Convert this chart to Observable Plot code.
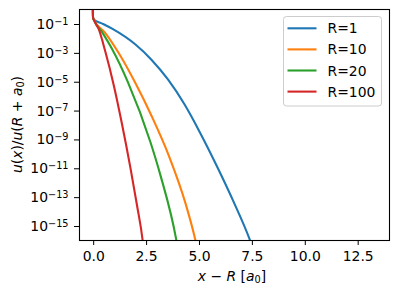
<!DOCTYPE html>
<html>
<head>
<meta charset="utf-8">
<script src="https://cdn.jsdelivr.net/npm/d3@7"></script>
<script src="https://cdn.jsdelivr.net/npm/@observablehq/plot@0.6"></script>
<style>
  html, body { margin: 0; padding: 0; background: #fff; }
  #chart svg { font-family: "DejaVu Sans", sans-serif; }
</style>
</head>
<body>
<div id="chart"></div>
<script>
// Series labels and colours (matplotlib tab10)
const seriesNames = ["R=1", "R=10", "R=20", "R=100"];
const seriesColors = ["#1f77b4", "#ff7f0e", "#2ca02c", "#d62728"];

// x − R in units of a0, and u(x)/u(R + a0) for each R
const xR1   = [-0.05, -0.03, 0, 0.41, 0.87, 1.976, 2.73, 3.51, 4.29, 5.04, 5.83, 6.62, 7.38, 7.45];
const yR1   = [30, 0.3, 0.224, 0.115, 0.0513, 4.07e-3, 3.63e-4, 1.55e-5, 2.95e-7, 2.95e-9, 1.45e-11, 4.9e-14, 1.2e-16, 6.3e-17];

const xR10  = [-0.05, -0.03, 0, 0.553, 1.182, 1.971, 2.76, 3.55, 4.34, 4.81, 4.86];
const yR10  = [30, 0.3, 0.224, 0.0257, 1.07e-3, 8.9e-6, 3.9e-8, 8.3e-11, 4.0e-14, 1.07e-16, 5e-17];

const xR20  = [-0.05, -0.03, 0, 0.397, 0.87, 1.617, 2.68, 3.15, 3.91, 3.95];
const yR20  = [30, 0.3, 0.224, 0.0295, 2.0e-3, 1.02e-5, 7.2e-10, 3.8e-12, 1.07e-16, 5e-17];

const xR100 = [-0.05, -0.03, 0, 0.236, 0.553, 0.946, 1.333, 1.735, 2.043, 2.317, 2.34];
const yR100 = [30, 0.3, 0.224, 0.049, 1.29e-3, 6.5e-6, 1.38e-8, 1.2e-11, 3.2e-14, 1.0e-16, 5e-17];

// Axis ticks
const xTicks = [0, 2.5, 5, 7.5, 10, 12.5];
const yTickExponents = [-1, -3, -5, -7, -9, -11, -13, -15];

const xs = [xR1, xR10, xR20, xR100];
const ys = [yR1, yR10, yR20, yR100];
const rows = seriesNames.flatMap((name, i) =>
  xs[i].map((x, j) => ({ x, y: ys[i][j], R: name }))
);

const W = 398, H = 294;
const mL = 79, mR = 9, mT = 9, mB = 54;
const fontPx = 13.9;

const plot = Plot.plot({
  width: W,
  height: H,
  marginLeft: mL,
  marginRight: mR,
  marginTop: mT,
  marginBottom: mB,
  style: { fontFamily: "DejaVu Sans, sans-serif", fontSize: fontPx + "px", background: "white", color: "black", overflow: "visible" },
  x: {
    domain: [-0.67, 13.98],
    ticks: xTicks,
    tickFormat: d => d.toFixed(1),
    tickSize: 5,
    tickPadding: 6,
    label: null
  },
  y: {
    type: "log",
    domain: [Math.pow(10, -15.97), Math.pow(10, 0.04)],
    ticks: yTickExponents.map(e => Math.pow(10, e)),
    tickFormat: d => "10^" + Math.round(Math.log10(d)),
    tickSize: 5,
    tickPadding: 6,
    label: null
  },
  color: { domain: seriesNames, range: seriesColors },
  marks: [
    Plot.lineY(rows, { x: "x", y: "y", z: "R", stroke: "R", strokeWidth: 2.1, curve: "monotone-x", clip: true }),
    Plot.frame({ stroke: "black", strokeWidth: 1.1 })
  ]
});

const svg = d3.select(plot);

// Power-of-ten tick labels with a raised, smaller exponent
svg.selectAll('g[aria-label="y-axis tick label"] text').each(function () {
  const t = this.textContent;
  const parts = t.split("^");
  if (parts.length !== 2) return;
  const sel = d3.select(this);
  sel.text(parts[0]);
  sel.append("tspan")
    .attr("dy", "-0.42em")
    .attr("font-size", "0.7em")
    .text(parts[1].replace("-", "\u2212"));
});

// Math-style axis titles
function mathLabel(g, pieces) {
  for (const p of pieces) {
    const ts = g.append("tspan").text(p.t);
    if (p.i) ts.attr("font-style", "italic");
    if (p.sub) ts.attr("font-size", "0.7em").attr("dy", "0.25em");
    if (p.unsub) ts.attr("dy", "-0.175em");
  }
}

const plotCx = mL + (W - mL - mR) / 2;
const plotCy = mT + (H - mT - mB) / 2;

const xLab = svg.append("text")
  .attr("x", plotCx - 2)
  .attr("y", 281)
  .attr("text-anchor", "middle")
  .attr("font-size", fontPx + "px")
  .attr("fill", "black");
mathLabel(xLab, [
  { t: "x", i: true }, { t: " \u2212 " }, { t: "R", i: true }, { t: " [" },
  { t: "a", i: true }, { t: "0", sub: true }, { t: "]", unsub: true }
]);

const yLab = svg.append("text")
  .attr("transform", `translate(22,${plotCy}) rotate(-90)`)
  .attr("text-anchor", "middle")
  .attr("font-size", fontPx + "px")
  .attr("fill", "black");
mathLabel(yLab, [
  { t: "u", i: true }, { t: "(" }, { t: "x", i: true }, { t: ")/" },
  { t: "u", i: true }, { t: "(" }, { t: "R", i: true }, { t: " + " },
  { t: "a", i: true }, { t: "0", sub: true }, { t: ")", unsub: true }
]);

// Legend box in the upper right corner
const leg = svg.append("g").attr("class", "legend").attr("text-anchor", "start");
leg.append("rect")
  .attr("x", 283.5).attr("y", 16.5)
  .attr("width", 98).attr("height", 89.5)
  .attr("rx", 3).attr("ry", 3)
  .attr("fill", "white").attr("fill-opacity", 0.8)
  .attr("stroke", "#cccccc").attr("stroke-width", 1);
seriesNames.forEach((name, i) => {
  const y = 28.3 + i * 21.1;
  leg.append("line")
    .attr("x1", 287.5).attr("x2", 316.5)
    .attr("y1", y).attr("y2", y)
    .attr("stroke", seriesColors[i]).attr("stroke-width", 2.1);
  leg.append("text")
    .attr("x", 327.5).attr("y", y)
    .attr("dy", "0.36em")
    .attr("text-anchor", "start")
    .attr("font-size", fontPx + "px")
    .attr("fill", "black")
    .text(name);
});

document.getElementById("chart").appendChild(plot);
</script>
</body>
</html>
